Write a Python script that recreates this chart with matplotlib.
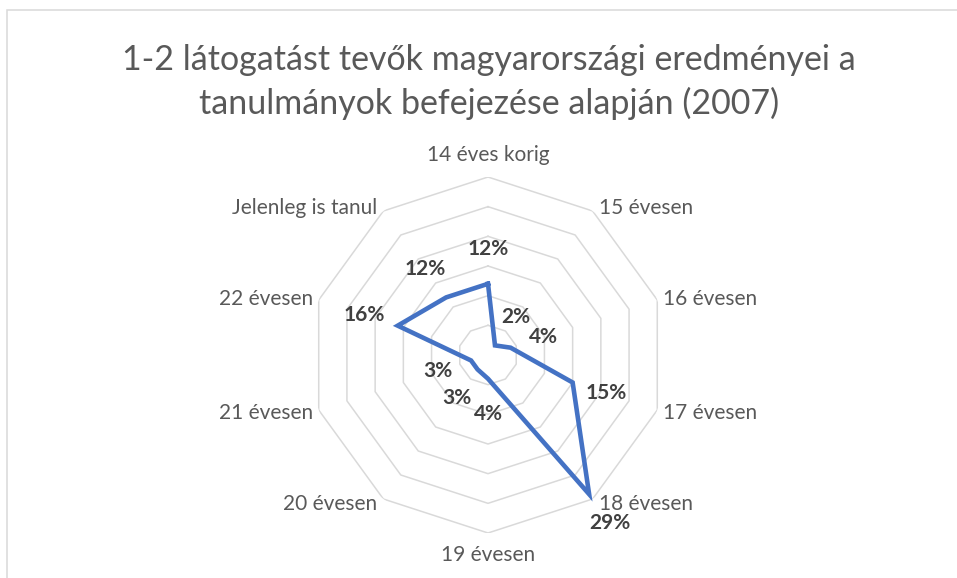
import numpy as np
import matplotlib.pyplot as plt
from matplotlib.patches import Rectangle

# categories and shares (%)
categories = ['14 éves korig', '15 évesen', '16 évesen', '17 évesen', '18 évesen',
              '19 évesen', '20 évesen', '21 évesen', '22 évesen', 'Jelenleg is tanul']
values = [12, 2, 4, 15, 29, 4, 3, 3, 16, 12]
rings = [5, 10, 15, 20, 25, 30]

plt.rcParams['font.family'] = ['Lato', 'DejaVu Sans']

W, H = 957, 578
fig = plt.figure(figsize=(W / 100, H / 100), dpi=100)

# chart frame
fig.patches.append(Rectangle((7 / W, -0.1), 1.2, 1.1 - 10 / H, transform=fig.transFigure,
                             fill=False, edgecolor='#d9d9d9', linewidth=1.1))

cx, cy, R = 488, 355, 178
ax = fig.add_axes([(cx - R) / W, (H - cy - R) / H, 2 * R / W, 2 * R / H], projection='polar')
ax.set_theta_offset(np.pi / 2)
ax.set_theta_direction(-1)
ax.set_ylim(0, 30)
ax.axis('off')

n = len(categories)
theta = np.linspace(0, 2 * np.pi, n, endpoint=False)
closed = np.append(theta, theta[0])

# polygon grid rings
for r in rings:
    ax.plot(closed, [r] * (n + 1), color='#d9d9d9', linewidth=1.1, zorder=1)

ax.plot(closed, values + values[:1], color='#4472c4', linewidth=3.3,
        solid_joinstyle='miter', zorder=3, clip_on=False)

# angle measured counter-clockwise from +x for each spoke
ang = np.pi / 2 - theta
for t, a, v, cat in zip(theta, ang, values, categories):
    c, s = np.cos(a), np.sin(a)
    # value labels pushed outwards along the spoke
    ax.annotate(f'{v}%', xy=(t, v), xytext=(35 * c, 35 * s), textcoords='offset pixels',
                ha='center', va='center', fontsize=15, fontweight='bold',
                color='#404040', zorder=4)
    # category labels just outside the outer ring
    if abs(c) < 0.01:
        ha = 'center'
        off = (0, 22 * np.sign(s))
    else:
        ha = 'left' if c > 0 else 'right'
        off = (6 * np.sign(c), 5.5 * s - 1)
    ax.annotate(cat, xy=(t, 30), xytext=off, textcoords='offset pixels',
                ha=ha, va='center', fontsize=15, color='#595959')

fig.text(489 / W, 1 - 60 / H, '1-2 látogatást tevők magyarországi eredményei a',
         ha='center', va='center', fontsize=24.5, color='#595959')
fig.text(489 / W, 1 - 103 / H, 'tanulmányok befejezése alapján (2007)',
         ha='center', va='center', fontsize=24.5, color='#595959')

fig.savefig('out.png', dpi=100)
